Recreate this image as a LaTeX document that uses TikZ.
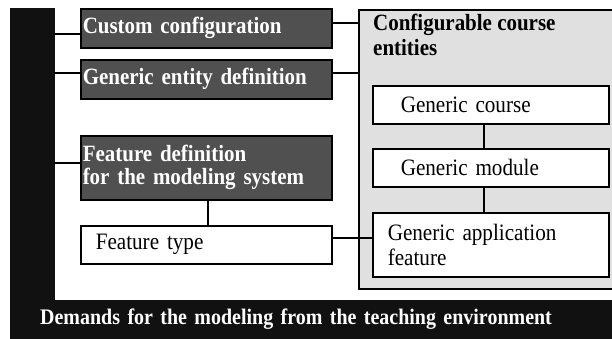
\documentclass[tikz,border=0pt]{standalone}
\usepackage{fontspec}
\setmainfont[FakeStretch=0.9]{Liberation Serif}
\definecolor{darkbox}{RGB}{80,80,80}
\definecolor{barblack}{RGB}{17,17,17}
\definecolor{panelgray}{RGB}{224,224,224}
\begin{document}
\begin{tikzpicture}[x=1pt,y=-1pt,
  darkbox/.style={draw=black,line width=1.5pt,fill=darkbox,text=white,font=\fontsize{23.3}{23}\selectfont\bfseries,
    anchor=north west,align=left,inner ysep=0pt},
  whitebox/.style={draw=black,line width=1.5pt,fill=white,anchor=north west,align=left,inner ysep=0pt,
    font=\fontsize{23.5}{25}\selectfont},
  conn/.style={draw=black,line width=1.5pt}]
\useasboundingbox (0,0) rectangle (612,338);
% black L shape
\node[fill=barblack,draw=barblack,anchor=north west,minimum width=44pt,minimum height=330pt,inner sep=0pt] (bar) at (10,8) {};
\node[fill=barblack,draw=barblack,anchor=north west,minimum width=604pt,minimum height=38pt,inner xsep=30pt,inner ysep=0pt,
  text width=544pt,align=left,text=white,font=\fontsize{22.2}{24}\selectfont\bfseries] (demands) at (10,300) {Demands for the modeling from the teaching environment};
% gray panel
\node[draw=black,line width=1.5pt,fill=panelgray,anchor=north west,minimum width=256pt,minimum height=279pt,inner sep=0pt] (ce) at (358,9) {};
\node[font=\fontsize{23.3}{25}\selectfont\bfseries,anchor=north west,align=left,inner sep=0pt] (cetitle) at (373,14) {Configurable course\\entities};
% dark boxes
\node[darkbox,text width=247pt,inner xsep=2pt,minimum height=39pt] (cc) at (80,8) {Custom configuration};
\node[darkbox,text width=247pt,inner xsep=2pt,minimum height=39pt] (ged) at (80,59) {Generic entity definition};
\node[darkbox,text width=247pt,inner xsep=2pt,minimum height=64pt] (fd) at (80,135) {Feature definition\\for the modeling system};
\node[whitebox,text width=221pt,inner xsep=15pt,minimum height=38pt] (ft) at (80,225) {Feature type};
% white boxes in panel
\node[whitebox,text width=180pt,inner xsep=28pt,minimum height=38pt] (gc) at (372,85) {Generic course};
\node[whitebox,text width=180pt,inner xsep=28pt,minimum height=38pt] (gm) at (372,148) {Generic module};
\node[whitebox,text width=206pt,inner xsep=15pt,minimum height=64pt] (gaf) at (372,212) {Generic application\\feature};
% connector points
\coordinate (l1) at ([yshift=-5.5pt]cc.west);
\coordinate (r1) at ([yshift=5.5pt]cc.east);
\coordinate (l2) at ([yshift=6.5pt]ged.west);
\coordinate (r2) at ([yshift=6.5pt]ged.east);
\coordinate (l3) at ([yshift=5pt]fd.west);
\coordinate (r4) at ([yshift=7pt]ft.east);
\coordinate (v1) at ([xshift=-7pt]gc.south);
% connectors
\draw[conn] (bar.east |- l1) -- (l1);
\draw[conn] (bar.east |- l2) -- (l2);
\draw[conn] (bar.east |- l3) -- (l3);
\draw[conn] (r1) -- (ce.west |- r1);
\draw[conn] (r2) -- (ce.west |- r2);
\draw[conn] (r4) -- (gaf.west |- r4);
\draw[conn] ([xshift=1.5pt]fd.south) -- ([xshift=1.5pt]ft.north);
\draw[conn] (v1) -- (v1 |- gm.north);
\draw[conn] (v1 |- gm.south) -- (v1 |- gaf.north);
\end{tikzpicture}
\end{document}
